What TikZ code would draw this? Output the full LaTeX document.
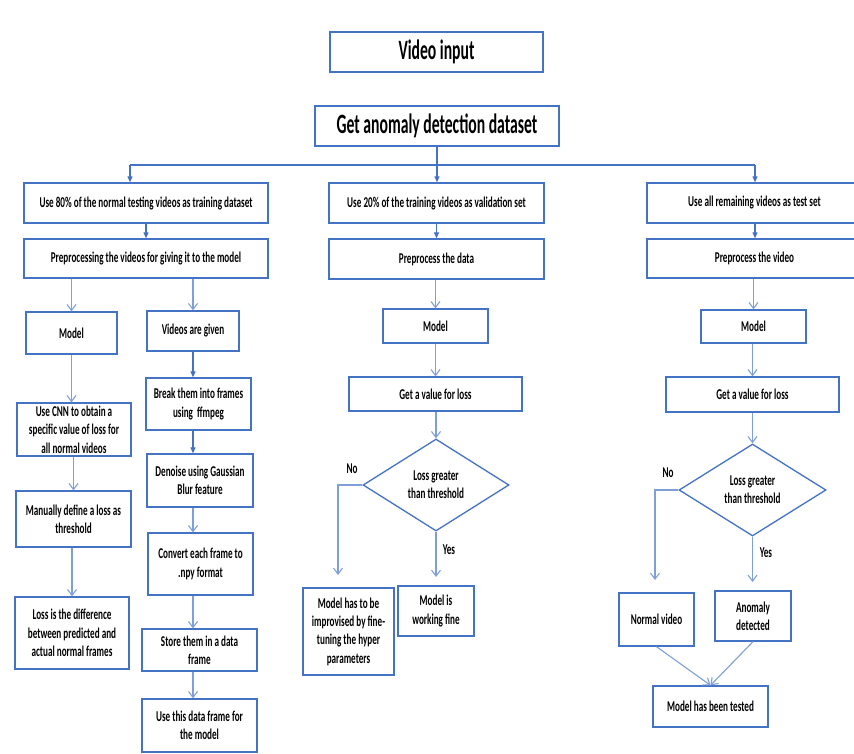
\documentclass[tikz,border=0pt]{standalone}
\usepackage{fontspec}
\setmainfont{Carlito}[FakeStretch=0.61]
\newfontfamily\titlefont{Carlito}[FakeStretch=0.56]
\usetikzlibrary{arrows.meta,shapes.geometric}
\definecolor{boxblue}{HTML}{4472C4}
\definecolor{linkblue}{HTML}{7F9FD8}
\begin{document}
\begin{tikzpicture}[x=1pt,y=-1pt,
  box/.style={draw=boxblue, line width=1.3pt, inner sep=0pt, align=center, font=\fontsize{15}{18.3}\selectfont\bfseries, text=black},
  titlebox/.style={box, font=\titlefont\fontsize{28}{32}\selectfont\bfseries},
  dia/.style={diamond, draw=boxblue, line width=1.3pt, inner sep=0pt, align=center, font=\fontsize{15}{18.3}\selectfont\bfseries, minimum width=146pt, minimum height=92pt},
  link/.style={draw=linkblue, line width=1.1pt, -{Straight Barb[length=6pt,width=9pt]}},
  flink/.style={draw=boxblue, line width=1.1pt, -{Triangle[length=6pt,width=5pt]}},
  lbl/.style={font=\fontsize{15}{18}\selectfont\bfseries, inner sep=0pt}
]
\fill[white] (0,0) rectangle (854,754);
\useasboundingbox (0,0) rectangle (854,754);

% top
\node[titlebox, minimum width=213pt, minimum height=40pt] (vin) at (436.5,52) {Video input};
\node[titlebox, minimum width=244pt, minimum height=40pt] (gad) at (437,126) {Get anomaly detection dataset};

% first row
\node[box, minimum width=244pt, minimum height=40pt] (L1) at (146,203) {Use 80\% of the normal testing videos as training dataset};
\node[box, minimum width=244pt, minimum height=39pt] (L2) at (146,258.5) {Preprocessing the videos for giving it to the model};
\node[box, minimum width=215pt, minimum height=40pt] (M1) at (436.5,203) {Use 20\% of the training videos as validation set};
\node[box, minimum width=215pt, minimum height=40pt] (M2) at (436.5,259) {Preprocess the data};
\node[box, minimum width=215pt, minimum height=40pt] (R1) at (754.5,203) {Use all remaining videos as test set};
\node[box, minimum width=215pt, minimum height=39pt] (R2) at (754.5,258.5) {Preprocess the video};

% left column
\node[box, minimum width=91pt, minimum height=42pt] (Lmodel) at (71.5,333) {Model};
\node[box, minimum width=92pt, minimum height=40pt] (Lvid) at (193,331) {Videos are given};
\node[box, minimum width=105pt, minimum height=52pt] (Lbreak) at (198.5,404) {Break them into frames\\using~ ffmpeg};
\node[box, minimum width=114pt, minimum height=53pt] (Lcnn) at (74,429.5) {Use CNN to obtain a\\specific value of loss for\\all normal videos};
\node[box, minimum width=106pt, minimum height=53pt] (Lden) at (200,480.5) {Denoise using Gaussian\\Blur feature};
\node[box, minimum width=115pt, minimum height=56pt] (Lman) at (73.5,519) {Manually define a loss as\\threshold};
\node[box, minimum width=105pt, minimum height=62pt] (Lconv) at (200.5,564) {Convert each frame to\\.npy format};
\node[box, minimum width=114pt, minimum height=72pt] (Lloss) at (72,633) {Loss is the difference\\between predicted and\\actual normal frames};
\node[box, minimum width=115pt, minimum height=42pt] (Lstore) at (199.5,650) {Store them in a data\\frame};
\node[box, minimum width=115pt, minimum height=53pt] (Luse) at (199.5,725.5) {Use this data frame for\\the model};

% middle column
\node[box, minimum width=105pt, minimum height=34pt] (Mmodel) at (435.5,326) {Model};
\node[box, minimum width=173pt, minimum height=34pt] (Mget) at (435.5,394) {Get a value for loss};
\node[dia] (Mdia) at (436,485) {Loss greater\\than threshold};
\node[box, minimum width=91pt, minimum height=87pt] (Mimp) at (348.5,631.5) {Model has to be\\improvised by fine-\\tuning the hyper\\parameters};
\node[box, minimum width=76pt, minimum height=50pt] (Mfine) at (436,611) {Model is\\working fine};
\node[lbl] (Mno) at (352,469) {No};
\node[lbl] (Myes) at (449,550) {Yes};

% right column
\node[box, minimum width=105pt, minimum height=33pt] (Rmodel) at (753.5,326.5) {Model};
\node[box, minimum width=173pt, minimum height=35pt] (Rget) at (752.5,394.5) {Get a value for loss};
\node[dia, minimum width=147pt] (Rdia) at (752.5,490) {Loss greater\\than threshold};
\node[box, minimum width=75pt, minimum height=53pt] (Rnorm) at (656.5,619.5) {Normal video};
\node[box, minimum width=76pt, minimum height=50pt] (Ranom) at (753,616) {Anomaly\\detected};
\node[box, minimum width=115pt, minimum height=41pt] (Rtest) at (710.5,706.5) {Model has been tested};
\node[lbl] (Rno) at (668,473) {No};
\node[lbl] (Ryes) at (766,553) {Yes};

% distribution
\coordinate (hub) at (437,165);
\coordinate (hl) at (130,165);
\coordinate (hr) at (755,165);
\draw[boxblue, line width=1.1pt] (gad.south) -- (hub);
\draw[boxblue, line width=1.1pt] (hl) -- (hr);
\draw[flink] (hl) -- (hl |- L1.north);
\draw[flink] (hub) -- (hub |- M1.north);
\draw[flink] (hr) -- (hr |- R1.north);
\draw[flink] (L1.south) -- (L2.north);
\draw[flink] (M1.south) -- (M2.north);
\draw[flink] (R1.south -| hr) -- (R2.north -| hr);

% left connectors
\draw[link] (L2.south -| Lmodel) -- (Lmodel.north);
\draw[link] (L2.south -| Lvid) -- (Lvid.north);
\draw[flink] (Lvid.south) -- (Lvid.south |- Lbreak.north);
\draw[flink] (Lbreak.south -| Lvid.south) -- (Lden.north -| Lvid.south);
\draw[link] (Lmodel.south) -- (Lmodel.south |- Lcnn.north);
\draw[link] (Lcnn.south -| Lman) -- (Lman.north);
\draw[link] (Lman.south -| Lloss) -- (Lloss.north);
\draw[link] (Lden.south -| Lvid.south) -- (Lconv.north -| Lvid.south);
\draw[link] (Lconv.south -| Lvid.south) -- (Lstore.north -| Lvid.south);
\draw[link] (Lstore.south -| Lvid.south) -- (Luse.north -| Lvid.south);

% middle connectors
\coordinate (mno) at (338,485);
\coordinate (mnoend) at (338,575);
\coordinate (myesend) at (436,577);
\draw[link] (M2.south -| Mmodel) -- (Mmodel.north);
\draw[link] (Mmodel.south) -- (Mmodel.south |- Mget.north);
\draw[link] (Mget.south -| Mdia) -- (Mdia.north);
\draw[link] (Mdia.west) -- (mno) -- (mnoend);
\draw[link] (Mdia.south) -- (myesend);

% right connectors
\coordinate (rno) at (655,490);
\coordinate (rnoend) at (655,580);
\coordinate (ryesend) at (752.5,582);
\draw[link] (R2.south -| Rmodel) -- (Rmodel.north);
\draw[link] (Rmodel.south -| Rget) -- (Rget.north);
\draw[link] (Rget.south -| Rdia) -- (Rdia.north);
\draw[link] (Rdia.west) -- (rno) -- (rnoend);
\draw[link] (Rdia.south) -- (ryesend);
\draw[link] (Rnorm.south) -- (Rtest.north);
\draw[link] (Ranom.south) -- (Rtest.north);
\end{tikzpicture}
\end{document}
